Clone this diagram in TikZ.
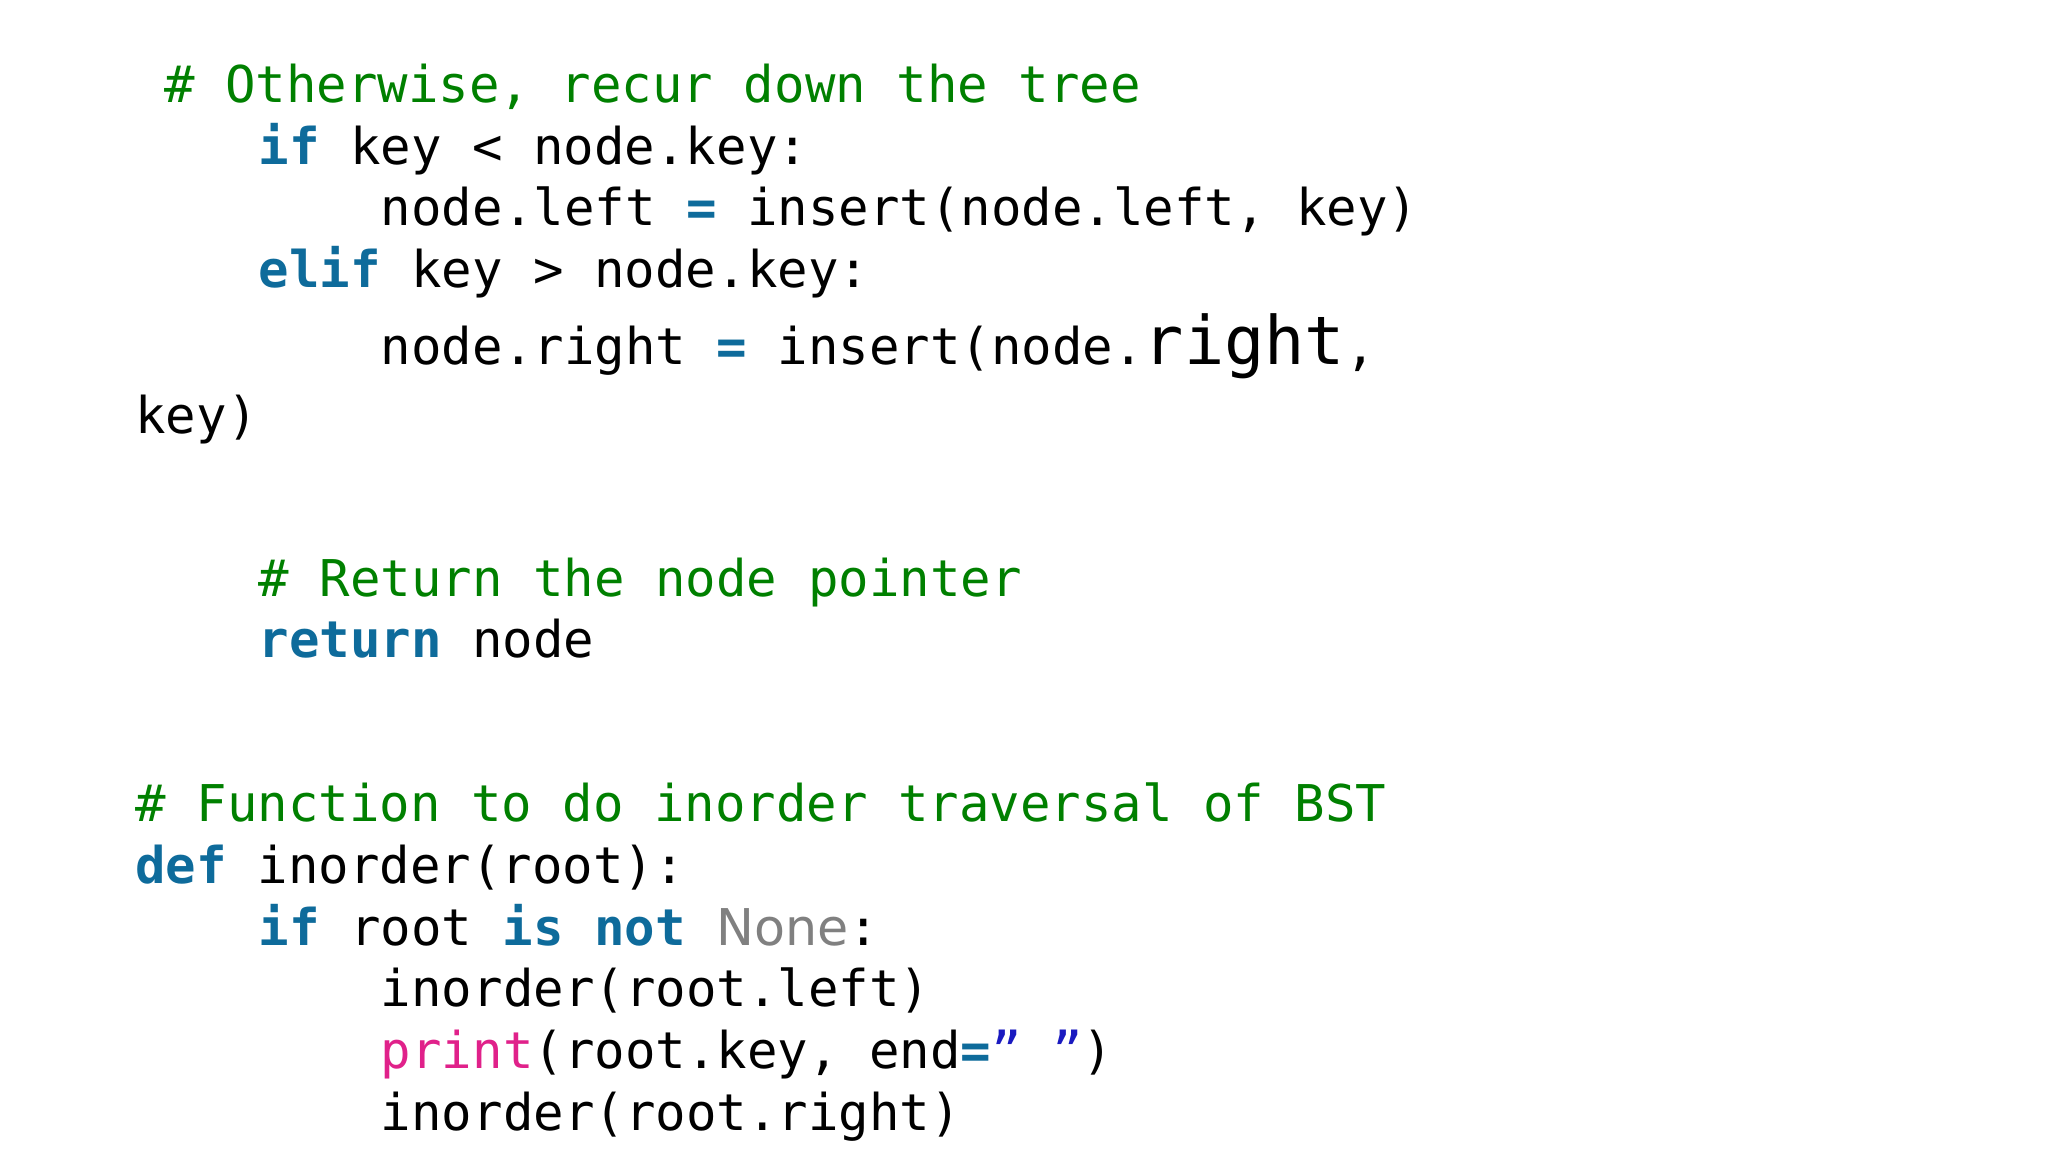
\documentclass[tikz,border=0pt]{standalone}
\usepackage{fontspec}
\setmainfont{DejaVu Sans Mono}
\newfontfamily\plainsans{DejaVu Sans}
\definecolor{cmtc}{HTML}{008000}
\definecolor{kwc}{HTML}{0E6B9B}
\definecolor{prc}{HTML}{E0218A}
\definecolor{strc}{HTML}{1A1AC0}
\definecolor{nonec}{HTML}{808080}
\newcommand{\kwd}[1]{\textcolor{kwc}{\bfseries #1}}
\newcommand{\cmt}[1]{\textcolor{cmtc}{#1}}
\newcommand{\dq}{\symbol{"22}}
\begin{document}
\begin{tikzpicture}[x=1pt,y=-1pt,
  codeline/.style={anchor=base west,inner sep=0pt,font=\fontsize{38.6}{47}\selectfont}]
\useasboundingbox[fill=white] (0,0) rectangle (1560,878);
\node[codeline] (l1) at (125,78) {\cmt{\# Otherwise, recur down the tree}};
\node[codeline] (l2) at (197,125) {\kwd{if} key < node.key:};
\node[codeline] (l3) at (290,172) {node.left \kwd{=} insert(node.left, key)};
\node[codeline] (l4) at (197,219) {\kwd{elif} key > node.key:};
\node[codeline] (l5) at (290,278) {node.right \kwd{=} insert(node.{\fontsize{51}{60}\selectfont right},};
\node[codeline] (l6) at (103,330) {key)};
\node[codeline] (l7) at (197,454) {\cmt{\# Return the node pointer}};
\node[codeline] (l8) at (197,501) {\kwd{return} node};
\node[codeline] (l9) at (103,626) {\cmt{\# Function to do inorder traversal of BST}};
\node[codeline] (l10) at (103,673) {\kwd{def} inorder(root):};
\node[codeline] (l11) at (197,720) {\kwd{if} root \kwd{is} \kwd{not} \textcolor{nonec}{\plainsans None}:};
\node[codeline] (l12) at (290,767) {inorder(root.left)};
\node[codeline] (l13) at (290,814) {\textcolor{prc}{print}(root.key, end\kwd{=}\textcolor{strc}{\dq\ \dq})};
\node[codeline] (l14) at (290,861) {inorder(root.right)};
\end{tikzpicture}
\end{document}
